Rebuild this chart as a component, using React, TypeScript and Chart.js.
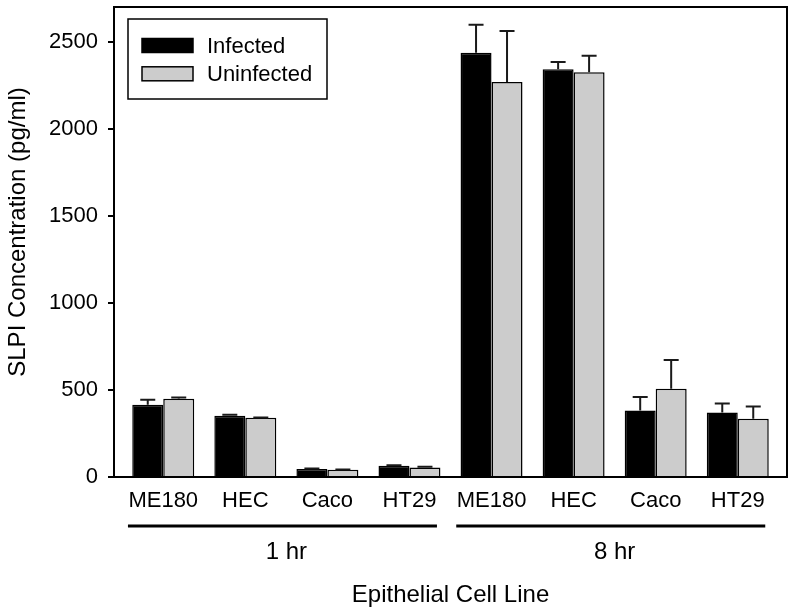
import { useEffect, useRef } from 'react';
import { Chart, registerables } from 'chart.js';

Chart.register(...registerables);

const cellLines = ['ME180', 'HEC', 'Caco', 'HT29', 'ME180', 'HEC', 'Caco', 'HT29'];
const timeGroups = ['1 hr', '8 hr'];
const seriesNames = ['Infected', 'Uninfected'];
const infected = [415, 352, 46, 65, 2437, 2342, 382, 371];
const infectedErr = [29, 5, 3, 3, 161, 42, 77, 51];
const uninfected = [449, 340, 42, 55, 2269, 2325, 507, 335];
const uninfectedErr = [7, 2, 1, 4, 293, 95, 165, 70];
const yTicks = [0, 500, 1000, 1500, 2000, 2500];
const yTitle = 'SLPI Concentration (pg/ml)';
const xTitle = 'Epithelial Cell Line';

const FONT = "'Liberation Sans', Arial, Helvetica, sans-serif";
const errors = [infectedErr, uninfectedErr];

const decorPlugin = {
  id: 'decor',
  afterDatasetsDraw(chart: any) {
    const ctx = chart.ctx;
    const y = chart.scales.y;
    ctx.save();
    ctx.strokeStyle = '#1a1a1a';
    ctx.lineWidth = 2;
    chart.data.datasets.forEach((ds: any, di: number) => {
      const meta = chart.getDatasetMeta(di);
      meta.data.forEach((el: any, j: number) => {
        const v = ds.data[j].y;
        const top = y.getPixelForValue(v + errors[di][j]);
        const cx = el.x;
        ctx.beginPath();
        ctx.moveTo(cx, el.y);
        ctx.lineTo(cx, top);
        ctx.moveTo(cx - 7.5, top);
        ctx.lineTo(cx + 7.5, top);
        ctx.stroke();
      });
    });
    ctx.restore();
  },
  afterDraw(chart: any) {
    const ctx = chart.ctx;
    const { left, right, top, bottom } = chart.chartArea;
    const x = chart.scales.x;
    ctx.save();
    ctx.strokeStyle = '#000';
    ctx.lineWidth = 2;
    ctx.strokeRect(left, top, right - left, bottom - top);

    ctx.fillStyle = '#000';
    ctx.font = `22px ${FONT}`;
    ctx.textAlign = 'center';
    ctx.textBaseline = 'alphabetic';
    cellLines.forEach((lab, i) => {
      ctx.fillText(lab, x.getPixelForValue(i), 507);
    });

    ctx.lineWidth = 3;
    timeGroups.forEach((g, gi) => {
      const x0 = x.getPixelForValue(gi * 4 - 0.43);
      const x1 = x.getPixelForValue(gi * 4 + 3.335);
      ctx.beginPath();
      ctx.moveTo(x0, 526);
      ctx.lineTo(x1, 526);
      ctx.stroke();
      ctx.font = `24px ${FONT}`;
      ctx.fillText(g, x.getPixelForValue(gi * 4 + 1.5), 559);
    });

    ctx.font = `24px ${FONT}`;
    ctx.fillText(xTitle, (left + right) / 2, 602);

    ctx.save();
    ctx.translate(25, 232);
    ctx.rotate(-Math.PI / 2);
    ctx.textAlign = 'center';
    ctx.textBaseline = 'alphabetic';
    ctx.fillText(yTitle, 0, 0);
    ctx.restore();

    const lx = left + 14;
    const ly = top + 12;
    ctx.lineWidth = 1.5;
    ctx.strokeStyle = '#000';
    ctx.strokeRect(lx, ly, 199, 80);
    ctx.font = `22px ${FONT}`;
    ctx.textAlign = 'left';
    chart.data.datasets.forEach((ds: any, di: number) => {
      const sy = ly + 19.5 + di * 28.3;
      ctx.fillStyle = ds.backgroundColor;
      ctx.fillRect(lx + 14, sy, 51, 14);
      ctx.lineWidth = 1.5;
      ctx.strokeRect(lx + 14, sy, 51, 14);
      ctx.fillStyle = '#000';
      ctx.fillText(seriesNames[di], lx + 79, sy + 14.5);
    });
    ctx.restore();
  },
};

export default function App() {
  const ref = useRef<HTMLCanvasElement>(null);
  useEffect(() => {
    if (!ref.current) return;
    const chart = new Chart(ref.current, {
      type: 'bar',
      data: {
        datasets: [
          {
            label: seriesNames[0],
            data: infected.map((v, i) => ({ x: i, y: v })),
            backgroundColor: '#000000',
            borderColor: '#000000',
            borderWidth: 1.5,
          },
          {
            label: seriesNames[1],
            data: uninfected.map((v, i) => ({ x: i, y: v })),
            backgroundColor: '#cccccc',
            borderColor: '#000000',
            borderWidth: 1.5,
          },
        ],
      },
      options: {
        responsive: false,
        animation: false,
        events: [],
        datasets: { bar: { categoryPercentage: 0.755, barPercentage: 1, grouped: true } },
        layout: { padding: { left: 0, top: 7, right: 8, bottom: 0 } },
        plugins: { legend: { display: false }, tooltip: { enabled: false }, title: { display: false } },
        scales: {
          x: {
            type: 'linear',
            offset: false,
            min: -0.6,
            max: 7.6,
            afterBuildTicks: (s: any) => { s.ticks = cellLines.map((_, i) => ({ value: i })); },
            grid: { display: false, drawTicks: false, offset: false },
            border: { display: false },
            ticks: { display: false },
            afterFit: (s: any) => { s.height = 138; s.paddingLeft = 0; s.paddingRight = 0; },
          },
          y: {
            type: 'linear',
            min: 0,
            max: 2700,
            afterBuildTicks: (s: any) => { s.ticks = yTicks.map((v) => ({ value: v })); },
            grid: { drawOnChartArea: false, drawTicks: true, tickLength: 6, lineWidth: 2, color: '#000' },
            border: { display: false },
            ticks: {
              color: '#000',
              padding: 10,
              font: { family: FONT, size: 22 },
              callback: (v: any) => String(v),
            },
            afterFit: (s: any) => { s.width = 114; s.paddingTop = 0; s.paddingBottom = 0; },
          },
        },
      },
      plugins: [decorPlugin],
    });
    return () => chart.destroy();
  }, []);
  return (
    <div style={{ position: 'fixed', left: 0, top: 0, width: 795, height: 615, background: '#fff' }}>
      <canvas ref={ref} width={795} height={615} style={{ display: 'block' }} />
    </div>
  );
}
